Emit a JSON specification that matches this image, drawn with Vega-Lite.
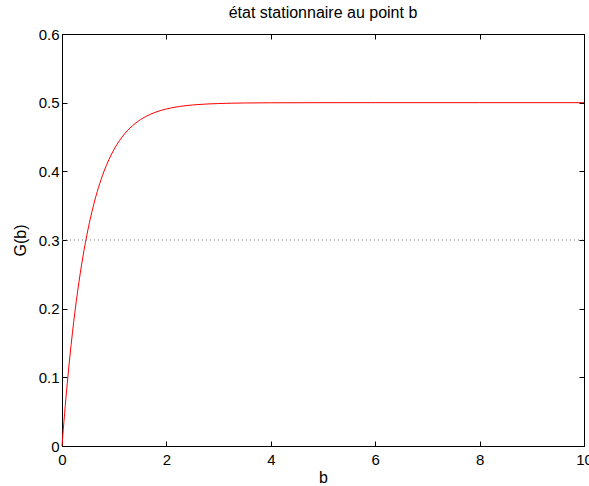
{
  "$schema": "https://vega.github.io/schema/vega-lite/v6.json",
  "width": 522,
  "height": 412,
  "autosize": {"type": "none"},
  "padding": {"left": 62, "top": 34, "right": 5, "bottom": 40},
  "background": "white",
  "config": {
    "font": "Liberation Sans",
    "view": {"stroke": "black", "strokeWidth": 1},
    "axis": {
      "grid": false,
      "domainColor": "black",
      "tickColor": "black",
      "labelColor": "black",
      "titleColor": "black",
      "labelFont": "Liberation Sans",
      "titleFont": "Liberation Sans",
      "labelFontSize": 15,
      "titleFontSize": 16,
      "titleFontWeight": "normal",
      "tickSize": -5,
      "labelFlush": false,
      "labelOverlap": false
    }
  },
  "title": {
    "text": "état stationnaire au point b",
    "fontSize": 16,
    "fontWeight": "normal",
    "font": "Liberation Sans",
    "color": "black",
    "offset": 6
  },
  "datasets": {
    "curve": [
      {"b": 0, "G": 0},
      {"b": 0.05, "G": 0.04758},
      {"b": 0.1, "G": 0.09063},
      {"b": 0.15, "G": 0.12959},
      {"b": 0.2, "G": 0.16484},
      {"b": 0.25, "G": 0.19673},
      {"b": 0.3, "G": 0.22559},
      {"b": 0.35, "G": 0.25171},
      {"b": 0.4, "G": 0.27534},
      {"b": 0.5, "G": 0.31606},
      {"b": 0.6, "G": 0.3494},
      {"b": 0.7, "G": 0.3767},
      {"b": 0.8, "G": 0.39905},
      {"b": 0.9, "G": 0.41735},
      {"b": 1.0, "G": 0.43233},
      {"b": 1.2, "G": 0.45464},
      {"b": 1.4, "G": 0.4696},
      {"b": 1.6, "G": 0.47962},
      {"b": 1.8, "G": 0.48634},
      {"b": 2.0, "G": 0.49084},
      {"b": 2.25, "G": 0.49445},
      {"b": 2.5, "G": 0.49663},
      {"b": 2.75, "G": 0.49796},
      {"b": 3.0, "G": 0.49876},
      {"b": 3.5, "G": 0.49954},
      {"b": 4.0, "G": 0.49983},
      {"b": 5.0, "G": 0.49998},
      {"b": 6.0, "G": 0.5},
      {"b": 8.0, "G": 0.5},
      {"b": 10.0, "G": 0.5}
    ],
    "level": [{"b0": 0, "b1": 10, "G": 0.3}]
  },
  "layer": [
    {
      "data": {"name": "level"},
      "mark": {"type": "rule", "stroke": "#777777", "strokeWidth": 1, "strokeDash": [1, 3]},
      "encoding": {
        "x": {"field": "b0", "type": "quantitative", "scale": {"domain": [0, 10], "nice": false},
          "axis": {"orient": "top", "labels": false, "title": null, "values": [0, 2, 4, 6, 8, 10]}},
        "x2": {"field": "b1"},
        "y": {"field": "G", "type": "quantitative", "scale": {"domain": [0, 0.6], "nice": false},
          "axis": {"orient": "right", "labels": false, "title": null, "values": [0, 0.1, 0.2, 0.3, 0.4, 0.5, 0.6]}}
      }
    },
    {
      "data": {"name": "curve"},
      "mark": {"type": "line", "color": "red", "strokeWidth": 1, "interpolate": "monotone"},
      "encoding": {
        "x": {"field": "b", "type": "quantitative", "scale": {"domain": [0, 10], "nice": false},
          "axis": {"orient": "bottom", "title": "b", "titlePadding": 2, "labelPadding": 11, "values": [0, 2, 4, 6, 8, 10], "format": "d"}},
        "y": {"field": "G", "type": "quantitative", "scale": {"domain": [0, 0.6], "nice": false},
          "axis": {"orient": "left", "title": "G(b)", "titlePadding": 10, "labelPadding": 8, "values": [0, 0.1, 0.2, 0.3, 0.4, 0.5, 0.6], "labelExpr": "datum.value == 0 ? '0' : format(datum.value, '.1f')"}}
      }
    }
  ]
}
